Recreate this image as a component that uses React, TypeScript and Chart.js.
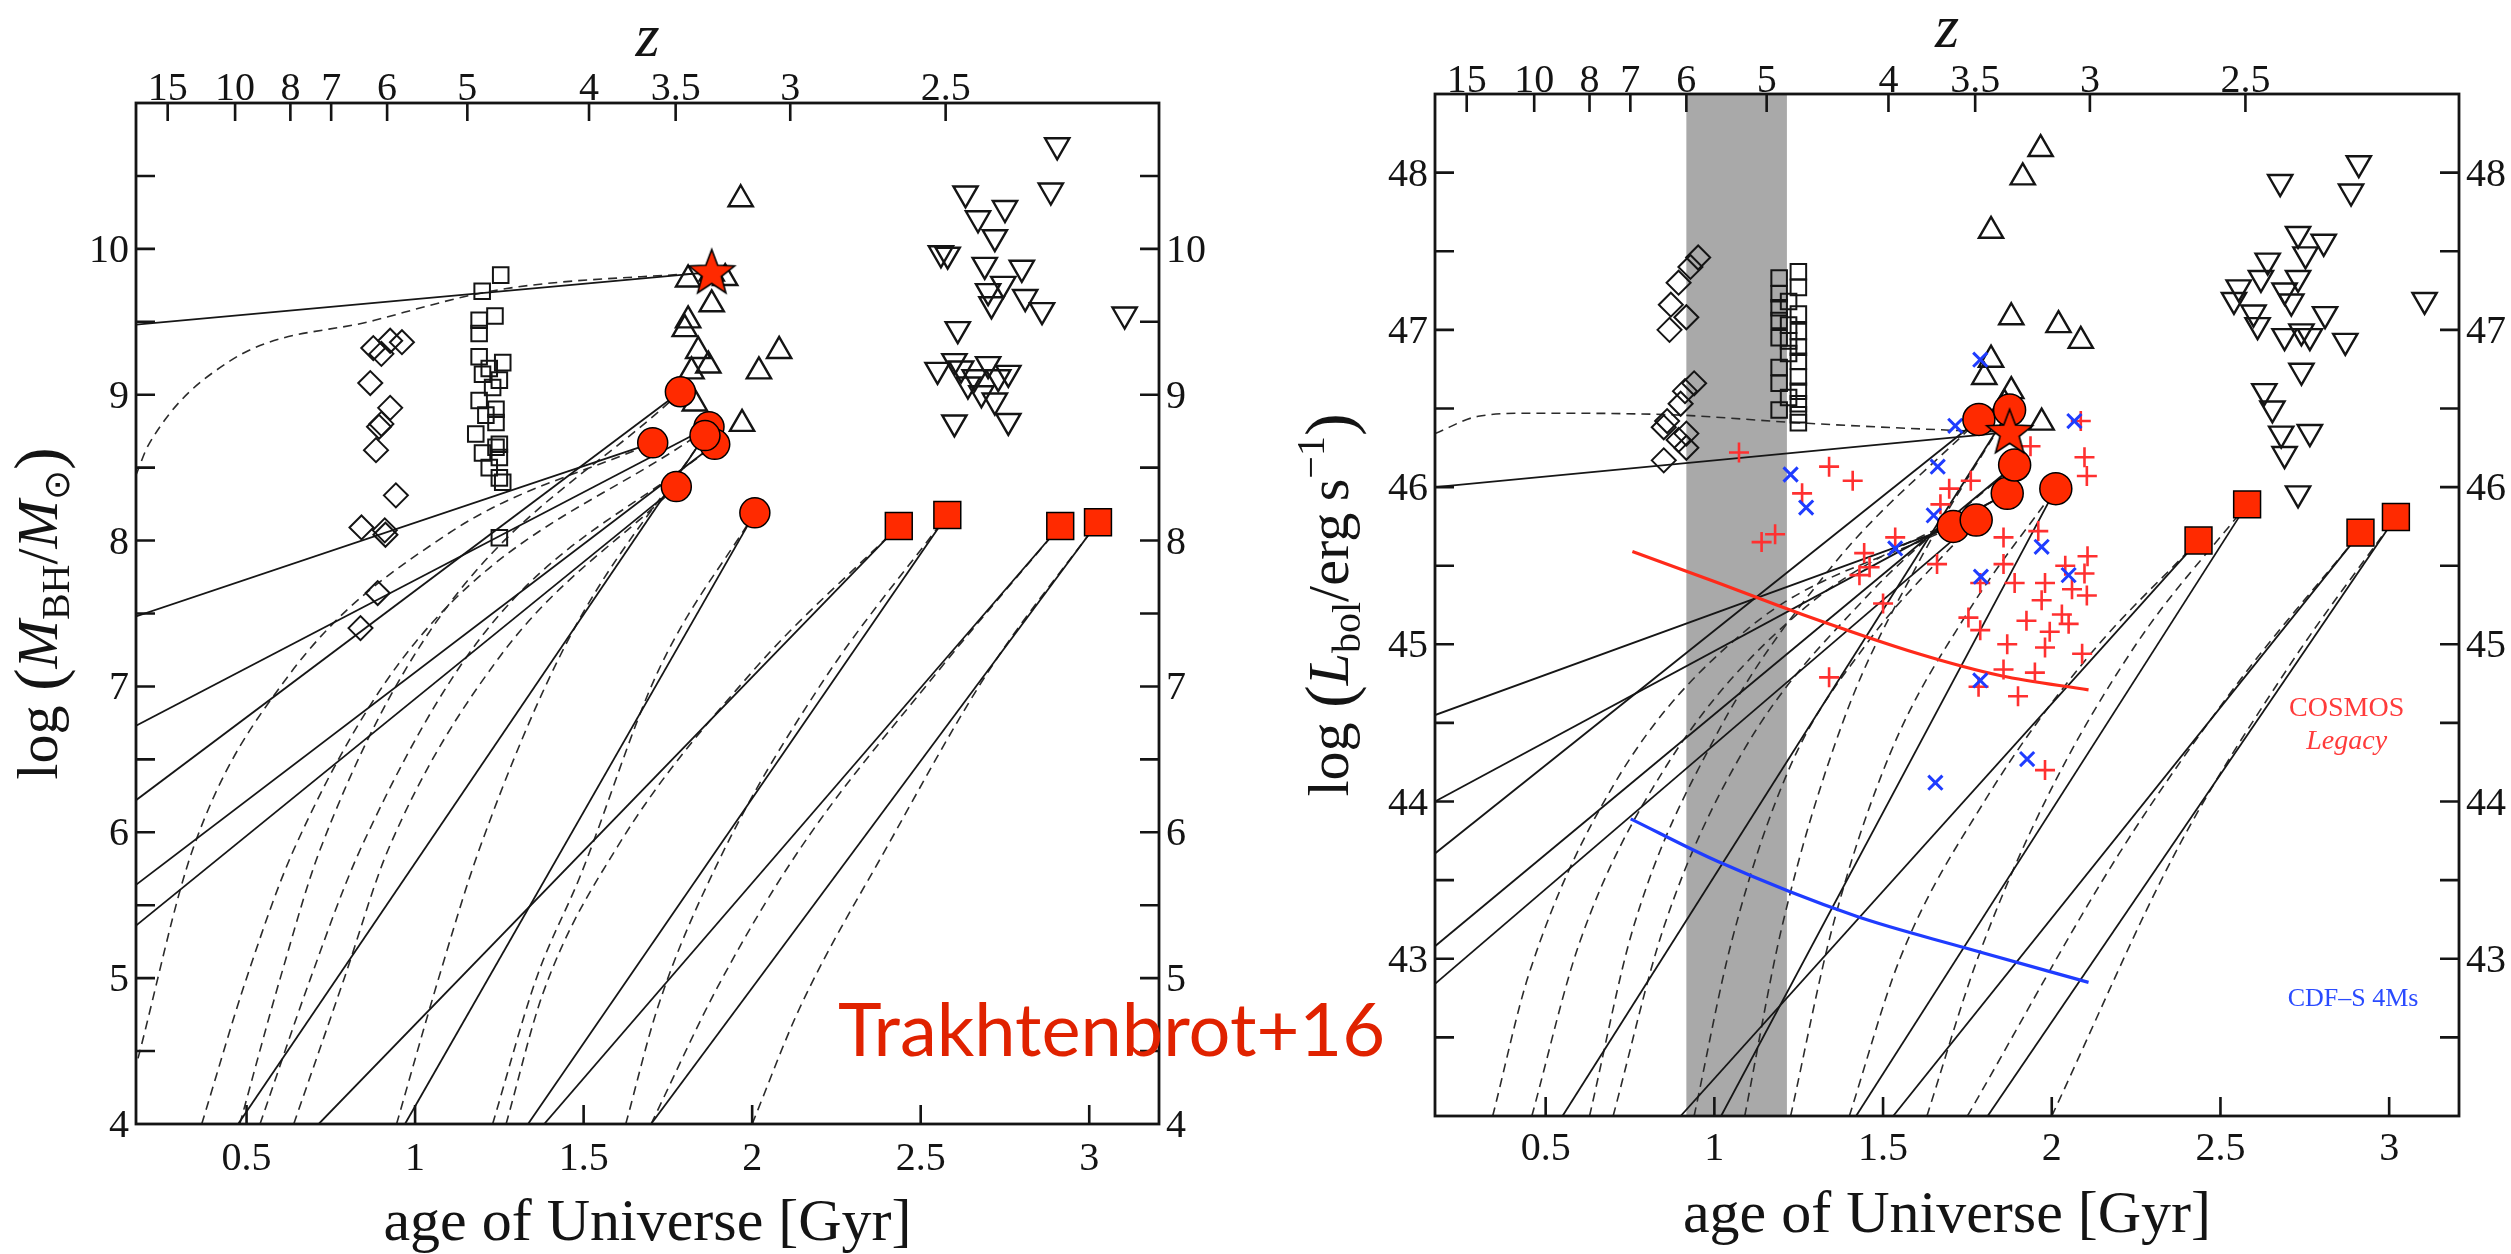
import React, { useEffect, useRef } from 'react';
import { Chart, registerables } from 'chart.js';

Chart.register(...registerables);

// ---------------- axes ----------------
const AGE_MIN = 0.172;
const AGE_MAX = 3.207;
const AGE_TICKS = [0.5, 1, 1.5, 2, 2.5, 3];
const AGE_TICK_LABELS = ['0.5', '1', '1.5', '2', '2.5', '3'];
const Z_TICK_LABELS = ['15', '10', '8', '7', '6', '5', '4', '3.5', '3', '2.5'];
const Z_TICK_AGES = [0.266, 0.466, 0.63, 0.751, 0.917, 1.155, 1.516, 1.773, 2.113, 2.574];

const MBH_MIN = 4;
const MBH_MAX = 11;
const MBH_TICKS = [4.5, 5, 5.5, 6, 6.5, 7, 7.5, 8, 8.5, 9, 9.5, 10, 10.5];
const MBH_LABELS = [4, 5, 6, 7, 8, 9, 10];

const LBOL_MIN = 42;
const LBOL_MAX = 48.5;
const LBOL_TICKS = [42.5, 43, 43.5, 44, 44.5, 45, 45.5, 46, 46.5, 47, 47.5, 48];
const LBOL_LABELS = [43, 44, 45, 46, 47, 48];

const BAND_AGE = [0.917, 1.215];

// ---------------- left panel: log M_BH ----------------
const M_DIAMONDS = [[0.876, 9.32], [0.926, 9.37], [0.961, 9.36], [0.9, 9.28], [0.867, 9.08], [0.926, 8.91], [0.893, 8.78], [0.9, 8.8], [0.884, 8.62], [0.943, 8.31], [0.841, 8.09], [0.91, 8.07], [0.912, 8.04], [0.889, 7.64], [0.838, 7.4]];
const M_SQUARES = [[1.254, 9.82], [1.199, 9.71], [1.237, 9.54], [1.19, 9.51], [1.19, 9.42], [1.19, 9.26], [1.26, 9.22], [1.22, 9.18], [1.2, 9.14], [1.25, 9.1], [1.23, 9.05], [1.19, 8.96], [1.24, 8.9], [1.21, 8.86], [1.24, 8.81], [1.18, 8.73], [1.25, 8.66], [1.24, 8.64], [1.2, 8.6], [1.25, 8.57], [1.22, 8.5], [1.25, 8.43], [1.26, 8.4], [1.25, 8.02]];
const M_UPTRI = [[1.966, 10.34], [1.88, 9.83], [1.81, 9.79], [1.92, 9.8], [1.88, 9.62], [1.81, 9.51], [1.8, 9.45], [1.84, 9.3], [1.87, 9.2], [2.08, 9.3], [2.02, 9.16], [1.82, 9.16], [1.83, 8.94], [1.97, 8.8]];
const M_DOWNTRI = [[2.905, 10.71], [2.886, 10.4], [2.633, 10.38], [2.67, 10.21], [2.75, 10.28], [2.72, 10.08], [2.56, 9.97], [2.58, 9.96], [2.69, 9.89], [2.8, 9.87], [2.745, 9.76], [2.7, 9.71], [2.71, 9.62], [2.81, 9.67], [2.86, 9.58], [3.105, 9.55], [2.61, 9.45], [2.55, 9.17], [2.62, 9.18], [2.7, 9.21], [2.76, 9.15], [2.64, 9.07], [2.68, 9.01], [2.72, 8.96], [2.76, 8.82], [2.6, 8.81], [2.66, 9.12], [2.73, 9.12], [2.6, 9.23]];
const M_RED_CIRCLES = [[1.787, 9.02], [1.705, 8.67], [1.872, 8.78], [1.889, 8.66], [1.86, 8.72], [1.775, 8.37], [2.008, 8.19]];
const M_RED_SQUARES = [[2.435, 8.1], [2.579, 8.175], [2.914, 8.1], [3.026, 8.126]];
const M_STAR = [[1.88, 9.84]];

const M_SOLID = [
  [[0.172, 9.48], [1.88, 9.84]],
  [[0.172, 7.48], [1.705, 8.67]],
  [[0.172, 6.73], [1.872, 8.78]],
  [[0.172, 6.22], [1.787, 9.02]],
  [[0.172, 5.64], [1.889, 8.66]],
  [[0.172, 5.36], [1.775, 8.37]],
  [[0.475, 4], [1.86, 8.72]],
  [[0.97, 4], [2.008, 8.19]],
  [[0.714, 4], [2.435, 8.1]],
  [[1.335, 4], [2.579, 8.175]],
  [[1.383, 4], [2.914, 8.1]],
  [[1.7, 4], [3.026, 8.126]],
];
const M_DASHED = [
  [[0.172, 8.45], [0.21, 8.66], [0.45, 9.23], [0.88, 9.51], [1.25, 9.72], [1.88, 9.84]],
  [[0.178, 4.45], [0.34, 5.88], [0.62, 7.06], [1.1, 8.05], [1.705, 8.67]],
  [[0.367, 4], [0.5, 5.0], [0.64, 5.88], [1.0, 7.3], [1.872, 8.78]],
  [[0.48, 4], [0.6, 5.0], [0.718, 5.88], [1.05, 7.4], [1.787, 9.02]],
  [[0.54, 4], [0.69, 5.0], [0.837, 5.88], [1.2, 7.35], [1.889, 8.66]],
  [[0.64, 4], [0.79, 5.0], [0.92, 5.88], [1.25, 7.2], [1.775, 8.37]],
  [[0.945, 4], [1.07, 5.0], [1.19, 5.88], [1.45, 7.3], [1.86, 8.72]],
  [[1.23, 4], [1.36, 5.0], [1.49, 5.7], [1.72, 7.1], [2.008, 8.19]],
  [[1.27, 4], [1.38, 4.9], [1.6, 5.9], [2.0, 7.1], [2.435, 8.1]],
  [[1.625, 4], [1.72, 4.8], [1.9, 5.8], [2.2, 7.0], [2.579, 8.175]],
  [[1.7, 4], [1.9, 4.95], [2.14, 5.88], [2.55, 7.1], [2.914, 8.1]],
  [[2.0, 4], [2.14, 4.79], [2.4, 5.9], [2.7, 7.1], [3.026, 8.126]],
];

// ---------------- right panel: log L_bol ----------------
const L_DIAMONDS = [[0.952, 47.46], [0.929, 47.4], [0.894, 47.3], [0.871, 47.16], [0.917, 47.08], [0.867, 47.0], [0.94, 46.66], [0.913, 46.61], [0.9, 46.53], [0.85, 46.38], [0.917, 46.34], [0.86, 46.42], [0.894, 46.3], [0.85, 46.17], [0.917, 46.25]];
const L_SQUARES = [[1.249, 47.37], [1.192, 47.33], [1.249, 47.27], [1.192, 47.23], [1.22, 47.18], [1.192, 47.14], [1.249, 47.1], [1.192, 47.06], [1.22, 47.03], [1.249, 46.99], [1.192, 46.95], [1.22, 46.93], [1.249, 46.89], [1.22, 46.85], [1.249, 46.8], [1.192, 46.76], [1.249, 46.7], [1.192, 46.66], [1.249, 46.61], [1.22, 46.57], [1.249, 46.53], [1.192, 46.49], [1.249, 46.46], [1.249, 46.41]];
const L_UPTRI = [[1.967, 48.15], [1.914, 47.97], [1.82, 47.63], [1.88, 47.08], [2.02, 47.03], [2.086, 46.93], [1.82, 46.81], [1.8, 46.7], [1.97, 46.41], [1.88, 46.61], [1.86, 46.53]];
const L_DOWNTRI = [[2.91, 48.06], [2.677, 47.94], [2.887, 47.88], [2.73, 47.61], [2.806, 47.56], [2.752, 47.48], [2.64, 47.44], [2.62, 47.33], [2.73, 47.33], [2.554, 47.27], [2.69, 47.25], [2.54, 47.19], [2.71, 47.18], [3.105, 47.19], [2.598, 47.11], [2.81, 47.1], [2.61, 47.03], [2.69, 46.96], [2.74, 46.99], [2.765, 46.96], [2.87, 46.93], [2.74, 46.74], [2.63, 46.61], [2.654, 46.5], [2.68, 46.34], [2.765, 46.35], [2.69, 46.21], [2.73, 45.96]];
const L_RED_CIRCLES = [[1.784, 46.43], [1.708, 45.75], [1.868, 45.96], [1.89, 46.14], [1.875, 46.49], [1.776, 45.79], [2.012, 45.99]];
const L_RED_SQUARES = [[2.435, 45.66], [2.579, 45.89], [2.915, 45.71], [3.02, 45.81]];
const L_STAR = [[1.875, 46.35]];
const COSMOS_POINTS = [[1.073, 46.22], [1.34, 46.13], [1.41, 46.04], [1.26, 45.96], [1.14, 45.65], [1.18, 45.7], [1.937, 46.26], [2.097, 46.19], [2.104, 46.07], [1.76, 46.04], [1.696, 45.99], [1.67, 45.89], [1.96, 45.72], [1.536, 45.68], [1.857, 45.68], [1.444, 45.58], [1.46, 45.49], [1.66, 45.51], [2.106, 45.56], [1.857, 45.51], [2.04, 45.5], [2.097, 45.45], [1.43, 45.44], [1.788, 45.39], [1.89, 45.39], [1.98, 45.39], [2.06, 45.35], [2.104, 45.31], [1.5, 45.26], [1.97, 45.28], [1.753, 45.17], [1.925, 45.15], [2.03, 45.19], [2.05, 45.13], [1.788, 45.09], [1.994, 45.08], [1.868, 45.0], [1.98, 44.98], [2.09, 44.94], [1.857, 44.84], [1.95, 44.82], [1.34, 44.79], [1.783, 44.73], [1.9, 44.67], [1.98, 44.2], [2.086, 46.42]];
const CDFS_POINTS = [[1.714, 46.39], [2.067, 46.42], [1.662, 46.13], [1.226, 46.08], [1.272, 45.87], [1.65, 45.82], [1.536, 45.61], [1.97, 45.62], [1.79, 45.43], [2.05, 45.44], [1.788, 44.77], [1.927, 44.27], [1.655, 44.12], [1.788, 46.81]];
const COSMOS_LIMIT = [[0.757, 45.59], [1.0, 45.4], [1.261, 45.19], [1.605, 44.94], [1.85, 44.8], [2.109, 44.71]];
const CDFS_LIMIT = [[0.752, 43.89], [1.009, 43.62], [1.421, 43.27], [1.742, 43.07], [2.109, 42.85]];

const L_SOLID = [
  [[0.172, 46.0], [1.875, 46.35]],
  [[0.172, 44.55], [1.708, 45.75]],
  [[0.172, 44.0], [1.868, 45.96]],
  [[0.172, 43.67], [1.784, 46.43]],
  [[0.172, 43.08], [1.89, 46.14]],
  [[0.172, 42.84], [1.776, 45.79]],
  [[0.55, 42], [1.875, 46.49]],
  [[1.02, 42], [2.012, 45.99]],
  [[0.9, 42], [2.435, 45.66]],
  [[1.42, 42], [2.579, 45.89]],
  [[1.53, 42], [2.915, 45.71]],
  [[1.81, 42], [3.02, 45.81]],
];
const L_DASHED = [
  [[0.172, 46.34], [0.3, 46.45], [0.46, 46.47], [0.87, 46.46], [1.24, 46.41], [1.72, 46.36], [1.875, 46.35]],
  [[0.343, 42], [0.45, 42.9], [0.7, 44.1], [1.1, 45.1], [1.708, 45.75]],
  [[0.459, 42], [0.6, 43.1], [0.85, 44.2], [1.25, 45.2], [1.868, 45.96]],
  [[0.63, 42], [0.76, 43.2], [1.0, 44.4], [1.35, 45.5], [1.784, 46.43]],
  [[0.7, 42], [0.85, 43.2], [1.08, 44.3], [1.45, 45.3], [1.89, 46.14]],
  [[0.94, 42], [1.05, 43.1], [1.22, 44.2], [1.45, 45.0], [1.776, 45.79]],
  [[1.09, 42], [1.2, 43.2], [1.38, 44.5], [1.6, 45.5], [1.875, 46.49]],
  [[1.226, 42], [1.35, 43.2], [1.52, 44.3], [1.75, 45.2], [2.012, 45.99]],
  [[1.4, 42], [1.55, 43.0], [1.8, 44.0], [2.1, 44.9], [2.435, 45.66]],
  [[1.63, 42], [1.78, 43.0], [1.98, 44.0], [2.25, 45.0], [2.579, 45.89]],
  [[1.75, 42], [2.2, 43.67], [2.55, 44.75], [2.915, 45.71]],
  [[2.0, 42], [2.37, 43.69], [2.7, 44.85], [3.02, 45.81]],
];

// ---------------- styling ----------------
const SERIF = '"Liberation Serif", "Times New Roman", "DejaVu Serif", serif';
const RED = '#ff2a00';
const INK = '#141414';

const P = (arr: number[][]) => arr.map(([x, y]) => ({ x, y }));

function makeStar(R: number) {
  const c = document.createElement('canvas');
  const size = Math.ceil(2 * R + 6);
  c.width = size;
  c.height = size;
  const g = c.getContext('2d')!;
  const cx = size / 2;
  const cy = size / 2 + R * 0.05;
  const r = R * 0.42;
  g.beginPath();
  for (let i = 0; i < 10; i++) {
    const a = -Math.PI / 2 + (i * Math.PI) / 5;
    const rr = i % 2 === 0 ? R : r;
    g.lineTo(cx + rr * Math.cos(a), cy + rr * Math.sin(a));
  }
  g.closePath();
  g.fillStyle = RED;
  g.fill();
  g.lineWidth = 1.6;
  g.strokeStyle = '#000';
  g.stroke();
  return c;
}

const lineDs = (pts: number[][], dashed: boolean) => ({
  data: P(pts),
  showLine: true,
  pointRadius: 0,
  pointHoverRadius: 0,
  borderColor: dashed ? '#2b2b2b' : '#161616',
  borderWidth: dashed ? 1.6 : 1.8,
  borderDash: dashed ? [9, 6] : [],
  cubicInterpolationMode: dashed ? 'monotone' : 'default',
  tension: 0,
  fill: false,
  order: 20,
});

const curveDs = (pts: number[][], color: string) => ({
  data: P(pts),
  showLine: true,
  pointRadius: 0,
  pointHoverRadius: 0,
  borderColor: color,
  borderWidth: 3.2,
  cubicInterpolationMode: 'monotone',
  fill: false,
  order: 15,
});

const markDs = (pts: number[][], style: any, radius: number, o: any) => ({
  data: P(pts),
  showLine: false,
  pointStyle: style,
  pointRadius: radius,
  pointHoverRadius: radius,
  pointBackgroundColor: o.fill || 'rgba(0,0,0,0)',
  pointBorderColor: o.stroke || INK,
  pointBorderWidth: o.width || 2,
  pointRotation: o.rotation || 0,
  order: o.order || 10,
});

type Seg = { t: string; font: string; dy?: number };

function drawSegs(ctx: CanvasRenderingContext2D, segs: Seg[], x: number, y: number, rotate: boolean) {
  ctx.save();
  ctx.translate(x, y);
  if (rotate) ctx.rotate(-Math.PI / 2);
  let total = 0;
  for (const s of segs) {
    ctx.font = s.font;
    total += ctx.measureText(s.t).width;
  }
  let cx = -total / 2;
  ctx.textAlign = 'left';
  ctx.textBaseline = 'alphabetic';
  for (const s of segs) {
    ctx.font = s.font;
    ctx.fillText(s.t, cx, s.dy || 0);
    cx += ctx.measureText(s.t).width;
  }
  ctx.restore();
}

function axesPlugin(cfg: any) {
  return {
    id: 'axesDeco',
    beforeDatasetsDraw(chart: any) {
      if (!cfg.band) return;
      const { ctx, chartArea: a, scales } = chart;
      const x0 = scales.x.getPixelForValue(cfg.band[0]);
      const x1 = scales.x.getPixelForValue(cfg.band[1]);
      ctx.save();
      ctx.fillStyle = '#a9a9a9';
      ctx.fillRect(x0, a.top, x1 - x0, a.bottom - a.top);
      ctx.restore();
    },
    afterDatasetsDraw(chart: any) {
      if (!cfg.notes) return;
      const { ctx, scales } = chart;
      ctx.save();
      for (const n of cfg.notes) {
        ctx.font = n.font;
        ctx.fillStyle = n.color;
        ctx.textAlign = 'center';
        ctx.textBaseline = 'middle';
        ctx.fillText(n.t, scales.x.getPixelForValue(n.x), scales.y.getPixelForValue(n.y));
      }
      ctx.restore();
    },
    afterDraw(chart: any) {
      const { ctx, chartArea: a, scales } = chart;
      const xs = scales.x;
      const ys = scales.y;
      const TL = 19;
      ctx.save();
      ctx.strokeStyle = INK;
      ctx.fillStyle = INK;
      ctx.lineWidth = 2.8;
      ctx.strokeRect(a.left, a.top, a.right - a.left, a.bottom - a.top);
      ctx.lineWidth = 2.6;
      ctx.beginPath();
      for (const v of cfg.yTicks) {
        const py = ys.getPixelForValue(v);
        ctx.moveTo(a.left, py);
        ctx.lineTo(a.left + TL, py);
        ctx.moveTo(a.right, py);
        ctx.lineTo(a.right - TL, py);
      }
      for (const v of AGE_TICKS) {
        const px = xs.getPixelForValue(v);
        ctx.moveTo(px, a.bottom);
        ctx.lineTo(px, a.bottom - TL);
      }
      for (const v of Z_TICK_AGES) {
        const px = xs.getPixelForValue(v);
        ctx.moveTo(px, a.top);
        ctx.lineTo(px, a.top + 18);
      }
      ctx.stroke();

      ctx.font = `40px ${SERIF}`;
      ctx.textBaseline = 'alphabetic';
      for (const v of cfg.yLabels) {
        const py = ys.getPixelForValue(v) + 13;
        ctx.textAlign = 'right';
        ctx.fillText(String(v), a.left - 7, py);
        ctx.textAlign = 'left';
        ctx.fillText(String(v), a.right + 7, py);
      }
      ctx.textAlign = 'center';
      AGE_TICKS.forEach((v, i) => {
        ctx.fillText(AGE_TICK_LABELS[i], xs.getPixelForValue(v), a.bottom + cfg.xLabelOff);
      });
      Z_TICK_AGES.forEach((v, i) => {
        ctx.fillText(Z_TICK_LABELS[i], xs.getPixelForValue(v), a.top - cfg.zLabelOff);
      });

      const cxm = (a.left + a.right) / 2;
      drawSegs(ctx, [{ t: 'age of Universe [Gyr]', font: `60px ${SERIF}` }], cxm, a.bottom + 116, false);
      drawSegs(ctx, [{ t: 'z', font: `italic 62px ${SERIF}` }], cxm, a.top - 47, false);
      drawSegs(ctx, cfg.yTitle, cfg.yTitleX, (a.top + a.bottom) / 2, true);
      ctx.restore();
    },
  };
}

const R58 = `58px ${SERIF}`;
const I58 = `italic 58px ${SERIF}`;
const P68 = `68px ${SERIF}`;
const S40 = `40px ${SERIF}`;

const LEFT_TITLE: Seg[] = [
  { t: 'log ', font: R58 },
  { t: '(', font: P68, dy: 4 },
  { t: 'M', font: I58 },
  { t: 'BH', font: S40, dy: 12 },
  { t: '/', font: R58 },
  { t: 'M', font: I58 },
  { t: '\u2299', font: `36px "DejaVu Sans", sans-serif`, dy: 12 },
  { t: ')', font: P68, dy: 4 },
];
const RIGHT_TITLE: Seg[] = [
  { t: 'log ', font: R58 },
  { t: '(', font: P68, dy: 4 },
  { t: 'L', font: I58 },
  { t: 'bol', font: S40, dy: 12 },
  { t: '/erg\u2009s', font: R58 },
  { t: '\u22121', font: S40, dy: -24 },
  { t: ')', font: P68, dy: 4 },
];

function baseOptions(yMin: number, yMax: number, padding: any) {
  return {
    responsive: false,
    maintainAspectRatio: false,
    animation: false,
    devicePixelRatio: 1,
    events: [],
    layout: { padding },
    scales: {
      x: { type: 'linear', min: AGE_MIN, max: AGE_MAX, display: false },
      y: { type: 'linear', min: yMin, max: yMax, display: false },
    },
    plugins: { legend: { display: false }, tooltip: { enabled: false } },
  };
}

function leftConfig(star: HTMLCanvasElement): any {
  const datasets: any[] = [];
  M_SOLID.forEach((l) => datasets.push(lineDs(l, false)));
  M_DASHED.forEach((l) => datasets.push(lineDs(l, true)));
  datasets.push(markDs(M_DIAMONDS, 'rectRot', 12, { width: 2 }));
  datasets.push(markDs(M_SQUARES, 'rect', 11, { width: 2 }));
  datasets.push(markDs(M_UPTRI, 'triangle', 14, { width: 2.4 }));
  datasets.push(markDs(M_DOWNTRI, 'triangle', 14, { width: 2.4, rotation: 180 }));
  datasets.push(markDs(M_RED_CIRCLES, 'circle', 15, { fill: RED, stroke: '#000', width: 1.5, order: 2 }));
  datasets.push(markDs(M_RED_SQUARES, 'rect', 19, { fill: RED, stroke: '#000', width: 1.5, order: 2 }));
  datasets.push(markDs(M_STAR, star, 24, { fill: RED, order: 1 }));
  return {
    type: 'scatter',
    data: { datasets },
    options: baseOptions(MBH_MIN, MBH_MAX, { left: 136, right: 121, top: 103, bottom: 130 }),
    plugins: [
      axesPlugin({
        yTicks: MBH_TICKS,
        yLabels: MBH_LABELS,
        xLabelOff: 46,
        zLabelOff: 3,
        yTitle: LEFT_TITLE,
        yTitleX: 57,
      }),
    ],
  };
}

function rightConfig(star: HTMLCanvasElement): any {
  const datasets: any[] = [];
  L_SOLID.forEach((l) => datasets.push(lineDs(l, false)));
  L_DASHED.forEach((l) => datasets.push(lineDs(l, true)));
  datasets.push(curveDs(COSMOS_LIMIT, '#ff2a1a'));
  datasets.push(curveDs(CDFS_LIMIT, '#1f3cff'));
  datasets.push(markDs(L_DIAMONDS, 'rectRot', 12, { width: 2 }));
  datasets.push(markDs(L_SQUARES, 'rect', 11, { width: 2 }));
  datasets.push(markDs(L_UPTRI, 'triangle', 14, { width: 2.4 }));
  datasets.push(markDs(L_DOWNTRI, 'triangle', 14, { width: 2.4, rotation: 180 }));
  datasets.push(markDs(COSMOS_POINTS, 'cross', 10, { stroke: '#ff3030', width: 2.6, order: 9 }));
  datasets.push(markDs(CDFS_POINTS, 'crossRot', 10, { stroke: '#1f3cff', width: 3, order: 8 }));
  datasets.push(markDs(L_RED_CIRCLES, 'circle', 16, { fill: RED, stroke: '#000', width: 1.5, order: 2 }));
  datasets.push(markDs(L_RED_SQUARES, 'rect', 19, { fill: RED, stroke: '#000', width: 1.5, order: 2 }));
  datasets.push(markDs(L_STAR, star, 24, { fill: RED, order: 1 }));
  return {
    type: 'scatter',
    data: { datasets },
    options: baseOptions(LBOL_MIN, LBOL_MAX, { left: 155, right: 52, top: 94, bottom: 138 }),
    plugins: [
      axesPlugin({
        yTicks: LBOL_TICKS,
        yLabels: LBOL_LABELS,
        xLabelOff: 44,
        zLabelOff: 2,
        yTitle: RIGHT_TITLE,
        yTitleX: 68,
        band: BAND_AGE,
        notes: [
          { t: 'COSMOS', font: `28px ${SERIF}`, color: '#ff3b3b', x: 2.874, y: 44.59 },
          { t: 'Legacy', font: `italic 28px ${SERIF}`, color: '#ff3b3b', x: 2.874, y: 44.38 },
          { t: 'CDF\u2013S 4Ms', font: `26px ${SERIF}`, color: '#2a4bff', x: 2.893, y: 42.74 },
        ],
      }),
    ],
  };
}

export default function App() {
  const leftRef = useRef<HTMLCanvasElement>(null);
  const rightRef = useRef<HTMLCanvasElement>(null);

  useEffect(() => {
    document.body.style.margin = '0';
    const star = makeStar(24);
    const c1 = new Chart(leftRef.current!, leftConfig(star));
    const c2 = new Chart(rightRef.current!, rightConfig(star));
    return () => {
      c1.destroy();
      c2.destroy();
    };
  }, []);

  return (
    <div style={{ position: 'relative', width: 2511, height: 1254, overflow: 'hidden', background: '#fff' }}>
      <canvas ref={leftRef} width={1280} height={1254} style={{ position: 'absolute', left: 0, top: 0, width: 1280, height: 1254 }} />
      <canvas ref={rightRef} width={1231} height={1254} style={{ position: 'absolute', left: 1280, top: 0, width: 1231, height: 1254 }} />
      <div
        style={{
          position: 'absolute',
          left: 838,
          top: 991,
          fontFamily: 'Lato, "Open Sans", sans-serif',
          fontSize: 74,
          lineHeight: '74px',
          color: '#e02200',
          whiteSpace: 'nowrap',
        }}
      >
        Trakhtenbrot+16
      </div>
    </div>
  );
}
